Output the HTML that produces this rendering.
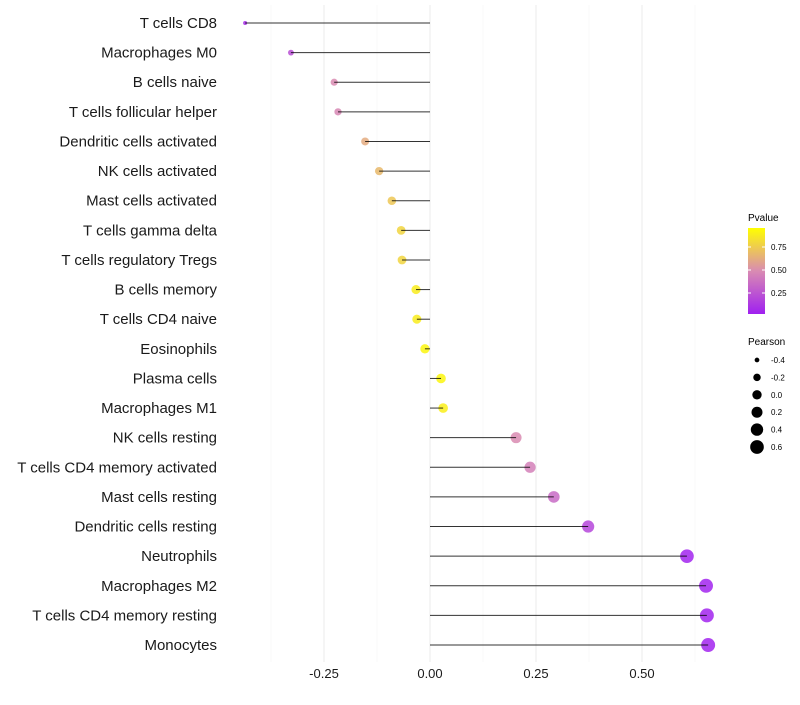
<!DOCTYPE html>
<html><head><meta charset="utf-8"><style>
body{margin:0;background:#fff;font-family:"Liberation Sans",sans-serif}
svg text{font-family:"Liberation Sans",sans-serif}
</style></head><body>
<svg id="chart" width="800" height="700" xmlns="http://www.w3.org/2000/svg">
<defs><linearGradient id="pg" x1="0" y1="1" x2="0" y2="0">
<stop offset="0" stop-color="#a020f0"/><stop offset="0.5" stop-color="#d98bb2"/><stop offset="1" stop-color="#ffff00"/></linearGradient></defs>
<g id="grid"></g><g id="marks"></g><g id="axes"></g>
<g>
<text x="748" y="221" font-size="10">Pvalue</text>
<rect x="748" y="228" width="17" height="86" fill="url(#pg)"/>
<line x1="748" y1="247" x2="751" y2="247" stroke="#fff"/><line x1="762" y1="247" x2="765" y2="247" stroke="#fff"/>
<line x1="748" y1="270" x2="751" y2="270" stroke="#fff"/><line x1="762" y1="270" x2="765" y2="270" stroke="#fff"/>
<line x1="748" y1="293" x2="751" y2="293" stroke="#fff"/><line x1="762" y1="293" x2="765" y2="293" stroke="#fff"/>
<text x="771" y="250" font-size="8">0.75</text>
<text x="771" y="273" font-size="8">0.50</text>
<text x="771" y="296" font-size="8">0.25</text>
</g>
<g id="sizeLegend">
<text x="748" y="345" font-size="10">Pearson</text>
</g>
</svg>
<script>
const cells=["T cells CD8","Macrophages M0","B cells naive","T cells follicular helper","Dendritic cells activated","NK cells activated","Mast cells activated","T cells gamma delta","T cells regulatory  Tregs ","B cells memory","T cells CD4 naive","Eosinophils","Plasma cells","Macrophages M1","NK cells resting","T cells CD4 memory activated","Mast cells resting","Dendritic cells resting","Neutrophils","Macrophages M2","T cells CD4 memory resting","Monocytes"];
const pearson=[-0.436,-0.328,-0.226,-0.217,-0.153,-0.120,-0.090,-0.068,-0.066,-0.033,-0.031,-0.012,0.026,0.031,0.203,0.236,0.292,0.373,0.606,0.651,0.653,0.656];
const pvalue=[0.06,0.22,0.50,0.48,0.64,0.70,0.76,0.82,0.82,0.92,0.92,0.96,0.96,0.93,0.50,0.45,0.35,0.18,0.02,0.02,0.02,0.02];
const xTicks=[-0.25,0,0.25,0.5];
const xTickLabels=["-0.25","0.00","0.25","0.50"];
const sizeBreaks=[-0.4,-0.2,0.0,0.2,0.4,0.6];
const NS="http://www.w3.org/2000/svg";
const x=v=>430+v*424;
const y=i=>23+i*29.62;
const r=v=>Math.sqrt(Math.max(1,4+(v+0.44)*40.9));
function col(p){
 const s=[[160,32,240],[217,139,178],[255,255,0]];
 let t=Math.max(0,Math.min(1,p));let a,b,u;
 if(t<0.5){a=s[0];b=s[1];u=t/0.5}else{a=s[1];b=s[2];u=(t-0.5)/0.5}
 return `rgb(${a.map((c,k)=>Math.round(c+(b[k]-c)*u)).join(",")})`;
}
function el(tag,attrs,parent){const e=document.createElementNS(NS,tag);for(const k in attrs)e.setAttribute(k,attrs[k]);parent.appendChild(e);return e;}
const grid=document.getElementById('grid'),marks=document.getElementById('marks'),axes=document.getElementById('axes');
[-0.375,-0.125,0.125,0.375,0.625].forEach(v=>{const l=el('line',{x1:x(v),x2:x(v),y1:5,y2:662,stroke:'#f4f4f4','stroke-width':0.6},grid);

});
xTicks.forEach((v,i)=>{const l=el('line',{x1:x(v),x2:x(v),y1:5,y2:662,stroke:'#ebebeb','stroke-width':1},grid);


const t=el('text',{x:x(v),y:678,'font-size':13,'text-anchor':'middle',fill:'#1a1a1a'},axes);t.textContent=xTickLabels[i];

});
cells.forEach((c,i)=>{
 const t=el('text',{x:217,y:y(i)+5,'font-size':15,'text-anchor':'end',fill:'#1a1a1a'},axes);t.textContent=c;
 
 
 const ci=el('circle',{cx:x(pearson[i]),cy:y(i),r:r(pearson[i]),fill:col(pvalue[i]),'fill-opacity':0.85},marks);
 
 
 const l=el('line',{x1:x(0),x2:x(pearson[i]),y1:y(i),y2:y(i),stroke:'#000','stroke-width':1,'stroke-opacity':0.8},marks);
 
 
});
const sl=document.getElementById('sizeLegend');
sizeBreaks.forEach((v,i)=>{const yy=360+i*17.4;
 const c=el('circle',{cx:757,cy:yy,r:r(v),fill:'#000'},sl);
 
 
 const t=el('text',{x:771,y:yy+3,'font-size':8},sl);t.textContent=v.toFixed(1);
 
 });
</script>
</body></html>
